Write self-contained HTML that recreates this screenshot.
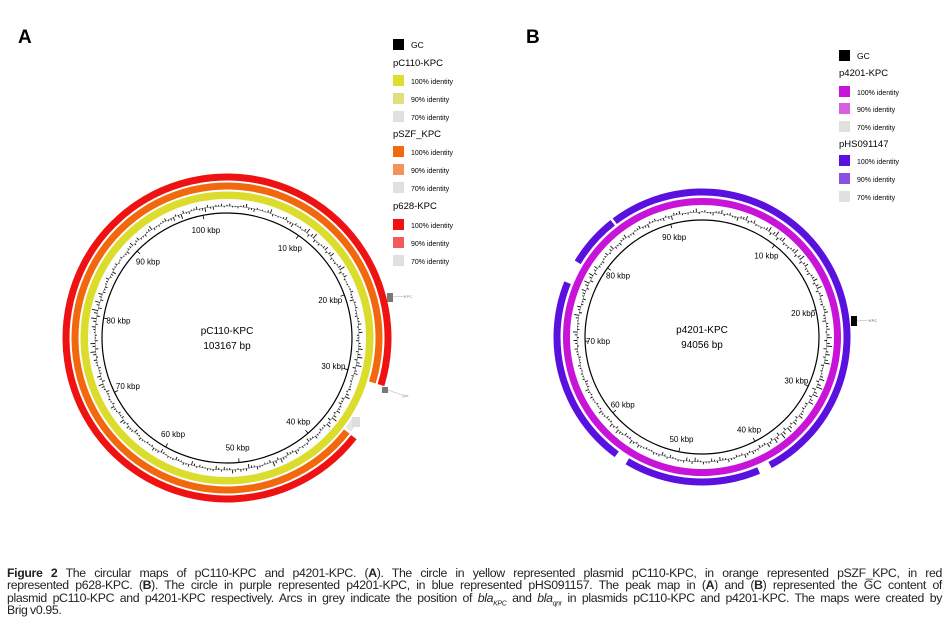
<!DOCTYPE html>
<html><head><meta charset="utf-8"><style>
body{margin:0;background:#fff;width:951px;height:634px;overflow:hidden;font-family:"Liberation Sans",sans-serif}
#cap{position:absolute;left:7px;top:567px;width:935px;font-size:12.3px;line-height:12.3px;color:#222;font-family:"Liberation Sans Narrow","Liberation Sans",sans-serif;letter-spacing:-0.35px;word-spacing:-0.5px}
#cap .l{display:block;text-align:justify;text-align-last:justify;white-space:nowrap;height:12.3px}
#cap .l.last{text-align-last:left}
</style></head><body>
<svg id="fig" width="951" height="560" style="position:absolute;left:0;top:0" font-family="Liberation Sans, sans-serif">
<text x="18" y="43" font-size="19" font-weight="bold">A</text>
<text x="526" y="43" font-size="19" font-weight="bold">B</text>
<g id="A"></g>
<g id="B"></g>
<g id="legA"></g>
<g id="legB"></g>
</svg>
<div id="cap"><span class="l" style="white-space:normal"><b>Figure 2</b> The circular maps of pC110-KPC and p4201-KPC. (<b>A</b>). The circle in yellow represented plasmid pC110-KPC, in orange represented pSZF_KPC, in red</span><span class="l" style="white-space:normal">represented p628-KPC. (<b>B</b>). The circle in purple represented p4201-KPC, in blue represented pHS091157. The peak map in (<b>A</b>) and (<b>B</b>) represented the GC content of</span><span class="l" style="white-space:normal">plasmid pC110-KPC and p4201-KPC respectively. Arcs in grey indicate the position of <i>bla<sub style="font-size:7px;line-height:0">KPC</sub></i> and <i>bla<sub style="font-size:7px;line-height:0">qnr</sub></i> in plasmids pC110-KPC and p4201-KPC. The maps were created by</span><span class="l last">Brig v0.95.</span></div>
<script>
const NS="http://www.w3.org/2000/svg";
// ---- data ----
const sizeA=103167, sizeB=94056;
const ticksA=[10,20,30,40,50,60,70,80,90,100];
const ticksB=[10,20,30,40,50,60,70,80,90];
// GC deviation per window (A)
const gcA=[0.4,-0.3,0.6,-0.5,0.2,0.7,-0.2,0.5,-0.6,0.3,0.8,0.9,-0.4,0.6,0.7,-0.3,0.9,0.5,-0.2,0.4,-0.6,0.3,-0.4,0.5,0.6,-0.5,0.7,0.8,0.9,0.6,-0.3,0.4,0.8,-0.5,0.6,0.9,0.7,-0.4,0.5,-0.6,0.3,0.6,-0.5,0.7,0.8,-0.3,0.5,-0.7,0.4,0.6,-0.5,-0.6,0.3,-0.4,-0.7,0.4,-0.5,0.3,-0.6,0.5,-0.3,0.4,-0.6,0.5,0.7,-0.4,0.6,0.3,-0.5,0.8,0.6,-0.4,0.5,0.9,0.8,-0.3,0.6,0.9,1.0,0.8,0.7,-0.4,0.5,-0.6,0.4,0.3,-0.5,0.6,0.5,-0.4,0.7,-0.3,0.5,-0.6,-0.8,-0.4,0.5,-0.7,-0.5,0.4];
const gcB=[0.3,-0.5,0.6,0.4,-0.6,0.7,0.5,-0.3,0.8,0.9,0.7,-0.4,0.8,0.9,0.6,-0.5,0.7,0.8,0.5,-0.4,0.6,-0.6,0.5,0.8,0.9,0.7,0.9,-0.3,0.8,1.0,0.9,0.8,-0.4,0.7,0.6,0.9,1.0,0.8,0.7,-0.5,0.5,0.6,-0.4,0.5,-0.6,-0.5,0.4,-0.7,-0.6,0.3,-0.5,-0.6,0.4,-0.3,0.5,0.6,-0.5,0.7,0.6,-0.4,0.5,-0.3,0.4,0.6,-0.5,0.3,0.4,-0.4,0.5,0.6,0.7,-0.3,0.8,0.6,-0.5,0.7,0.9,0.8,0.6,-0.4,0.5,0.7,-0.5,0.6,-0.4,0.5,-0.6,0.4,-0.5,-0.7,0.5,-0.3,0.6];
// ring segments [startDeg, endDeg] (clockwise from top)
const redSegs=[[128,467]];
const orangeSegs=[[128,467]];
const yellowSegs=[[0,360]];
const magentaSegs=[[0,360]];
const blueSegs=[[-37,152],[157,211],[216,292],[301,322]];
// ---- helpers ----
function pt(cx,cy,r,a){const t=a*Math.PI/180;return [cx+r*Math.sin(t),cy-r*Math.cos(t)];}
function arc(cx,cy,r1,r2,a1,a2){
 if(a2-a1>=359.9){a2=a1+359.99;}
 const L=(a2-a1)>180?1:0;
 const p1=pt(cx,cy,r2,a1),p2=pt(cx,cy,r2,a2),p3=pt(cx,cy,r1,a2),p4=pt(cx,cy,r1,a1);
 return `M${p1}A${r2},${r2} 0 ${L} 1 ${p2}L${p3}A${r1},${r1} 0 ${L} 0 ${p4}Z`;
}
function mk(g,tag,at){const e=document.createElementNS(NS,tag);for(const k in at)e.setAttribute(k,at[k]);g.appendChild(e);return e;}
function ring(g,cx,cy,r1,r2,segs,col,name){
 segs.forEach(s=>{const e=mk(g,'path',{d:arc(cx,cy,r1,r2,s[0],s[1]),fill:col});
 
 });
}
function map(id,cx,cy,rIn,rGC,size,ticks,gc,rLab,name,bp){
 const g=document.getElementById(id);
 const c=mk(g,'circle',{cx:cx,cy:cy,r:rIn,fill:'none',stroke:'#000','stroke-width':1.2});
 
 
 ticks.forEach(t=>{const a=t*1000/size*360;const p1=pt(cx,cy,rIn,a),p2=pt(cx,cy,rIn-4,a);
  mk(g,'line',{x1:p1[0],y1:p1[1],x2:p2[0],y2:p2[1],stroke:'#000','stroke-width':0.8});
  const q=pt(cx,cy,rLab,a);const tx=mk(g,'text',{x:q[0],y:q[1]+3,'font-size':8,'text-anchor':'middle'});tx.textContent=t+' kbp';
  
  });
 let d='';const n=gc.length;
 for(let i=0;i<n;i++){for(let j=0;j<3;j++){const a=(i+j/3)/n*360;const v=gc[i]*(j==1?1:0.55*(j==0?1:-1));
  const p1=pt(cx,cy,rGC,a),p2=pt(cx,cy,rGC+v*6,a);d+=`M${p1[0].toFixed(1)},${p1[1].toFixed(1)}L${p2[0].toFixed(1)},${p2[1].toFixed(1)}`;}}
 const b=mk(g,'circle',{cx:cx,cy:cy,r:rGC,fill:'none',stroke:'#555','stroke-width':0.5});
 const gp=mk(g,'path',{d:d,stroke:'#111','stroke-width':0.9,fill:'none'});
 
 
 const t1=mk(g,'text',{x:cx,y:cy-4,'font-size':10,'text-anchor':'middle'});t1.textContent=name;
 
 
 const t2=mk(g,'text',{x:cx,y:cy+11,'font-size':10,'text-anchor':'middle'});t2.textContent=bp;
 
 
}
// Panel A
const gA=document.getElementById('A');
ring(gA,227,338,139,146.5,yellowSegs,'#dcdc2c','ring-pc110-kpc');
ring(gA,227,338,148.5,155.5,orangeSegs,'#f2680e','ring-pszf-kpc');
ring(gA,227,338,157.5,164.5,redSegs,'#ee1212','ring-p628-kpc');
ring(gA,227,338,148.5,155.5,[[122,127]],'#e6e6e6','ring-gap-grey');
map('A',227,338,125,132,sizeA,ticksA,gcA,110,'pC110-KPC','103167 bp');
mk(gA,'rect',{x:387,y:293,width:6,height:9,fill:'#777'});
mk(gA,'line',{x1:393,y1:297,x2:405,y2:296,stroke:'#aaa','stroke-width':0.5});
let kt=mk(gA,'text',{x:404,y:298,'font-size':4,fill:'#888'});kt.textContent='KPC';


mk(gA,'rect',{x:382,y:387,width:6,height:6,fill:'#777'});
mk(gA,'line',{x1:388,y1:390,x2:402,y2:395,stroke:'#aaa','stroke-width':0.5});
let qt=mk(gA,'text',{x:402,y:397,'font-size':4,fill:'#888'});qt.textContent='Qnr';


mk(gA,'rect',{x:352,y:417,width:8,height:10,fill:'#ddd'});
// Panel B
const gB=document.getElementById('B');
ring(gB,702,337,132,139,magentaSegs,'#c814d8','ring-p4201-kpc');
ring(gB,702,337,141.5,148.5,blueSegs,'#5a10de','ring-phs091147');
map('B',702,337,117,125,sizeB,ticksB,gcB,104,'p4201-KPC','94056 bp');
mk(gB,'rect',{x:851,y:316,width:6,height:10,fill:'#000'});
mk(gB,'line',{x1:857,y1:321,x2:869,y2:320,stroke:'#aaa','stroke-width':0.5});
let kb=mk(gB,'text',{x:869,y:322,'font-size':4,fill:'#666'});kb.textContent='KPC';


// Legends
function legend(id,x,items){const g=document.getElementById(id);
 items.forEach(it=>{ if(it[2]){const r=mk(g,'rect',{x:x,y:it[1]-6,width:11,height:11,fill:it[2]});
   
   
   const t=mk(g,'text',{x:x+18,y:it[1]+3,'font-size':it[3]?7:8.5});t.textContent=it[0];
   
   }
  else{const t=mk(g,'text',{x:x,y:it[1]+3,'font-size':9.5});t.textContent=it[0];
   
   }});}
legend('legA',393,[['GC',45,'#000',0],['pC110-KPC',63],['100% identity',81,'#dede2e',1],['90% identity',99,'#e0e07a',1],['70% identity',117,'#e0e0e0',1],['pSZF_KPC',134],['100% identity',152,'#f26a10',1],['90% identity',170,'#f5925a',1],['70% identity',188,'#e0e0e0',1],['p628-KPC',206],['100% identity',225,'#f21010',1],['90% identity',243,'#f55a5a',1],['70% identity',261,'#e0e0e0',1]]);
legend('legB',839,[['GC',56,'#000',0],['p4201-KPC',73],['100% identity',92,'#c814d8',1],['90% identity',109,'#d860e0',1],['70% identity',127,'#e0e0e0',1],['pHS091147',144],['100% identity',161,'#5a10e0',1],['90% identity',179,'#8a50e0',1],['70% identity',197,'#e0e0e0',1]]);
</script>
</body></html>
